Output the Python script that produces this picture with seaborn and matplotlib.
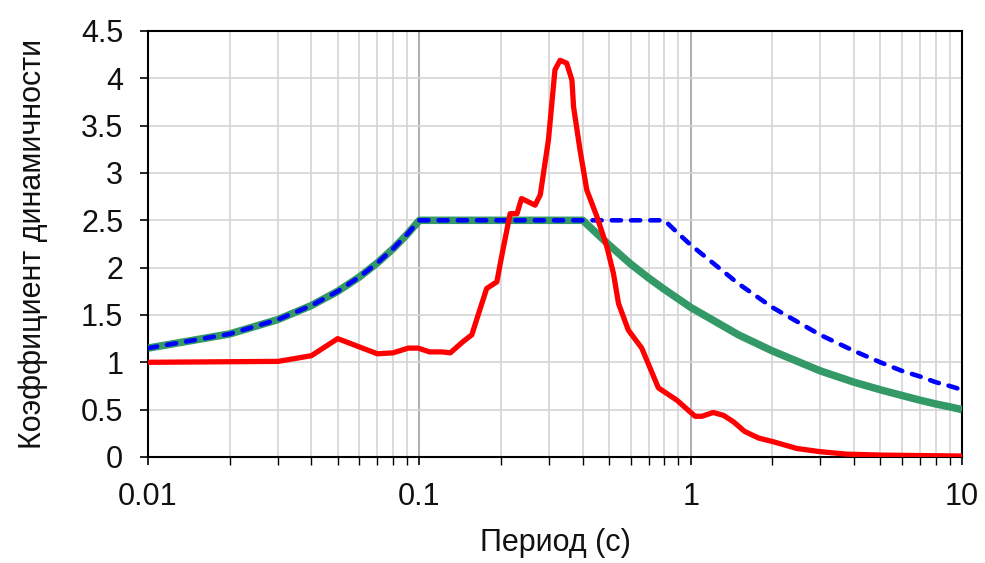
import matplotlib
matplotlib.use("Agg")
import matplotlib.pyplot as plt
import matplotlib.ticker as mticker
import seaborn as sns
import pandas as pd

# Observed spectrum (red)
red_period = [0.01, 0.0302, 0.040, 0.050, 0.070, 0.080, 0.091, 0.099, 0.109, 0.121, 0.130,
              0.145, 0.156, 0.177, 0.193, 0.201, 0.216, 0.229, 0.238, 0.267, 0.279, 0.299,
              0.316, 0.330, 0.349, 0.365, 0.370, 0.391, 0.414, 0.451, 0.491, 0.519, 0.542,
              0.589, 0.660, 0.760, 0.817, 0.889, 1.038, 1.10, 1.21, 1.32, 1.44, 1.58, 1.78,
              2.02, 2.46, 3.0, 3.76, 4.99, 10.0]
red_value = [1.00, 1.01, 1.07, 1.25, 1.09, 1.10, 1.15, 1.15, 1.11, 1.11, 1.10,
             1.22, 1.29, 1.78, 1.85, 2.12, 2.57, 2.57, 2.73, 2.66, 2.77, 3.35,
             4.09, 4.19, 4.16, 3.98, 3.70, 3.24, 2.82, 2.54, 2.22, 1.94, 1.62,
             1.34, 1.15, 0.73, 0.67, 0.60, 0.43, 0.43, 0.47, 0.44, 0.37, 0.27, 0.20,
             0.16, 0.09, 0.056, 0.03, 0.02, 0.01]

# Design spectra
design_period = [0.01, 0.02, 0.03, 0.04, 0.05, 0.06, 0.07, 0.08, 0.09, 0.1, 0.2, 0.3, 0.4,
                 0.5, 0.6, 0.7, 0.8, 0.9, 1.0, 1.5, 2.0, 3.0, 4.0, 5.0, 6.0, 7.0, 8.0, 9.0, 10.0]
blue_value = [1.15, 1.30, 1.45, 1.60, 1.75, 1.90, 2.05, 2.20, 2.35, 2.50, 2.50, 2.50, 2.50,
              2.50, 2.50, 2.50, 2.50, 2.36, 2.24, 1.83, 1.58, 1.29, 1.12, 1.00, 0.91, 0.85,
              0.79, 0.75, 0.71]
green_value = [1.15, 1.30, 1.45, 1.60, 1.75, 1.90, 2.05, 2.20, 2.35, 2.50, 2.50, 2.50, 2.50,
               2.24, 2.04, 1.89, 1.77, 1.67, 1.58, 1.29, 1.12, 0.91, 0.79, 0.71, 0.65, 0.60,
               0.56, 0.53, 0.50]

x_ticks = [0.01, 0.1, 1, 10]
x_tick_labels = ["0.01", "0.1", "1", "10"]
y_ticks = [0, 0.5, 1, 1.5, 2, 2.5, 3, 3.5, 4, 4.5]
y_tick_labels = ["0", "0.5", "1", "1.5", "2", "2.5", "3", "3.5", "4", "4.5"]

sns.set_theme(style="white")
plt.rcParams["font.family"] = ["Liberation Sans", "DejaVu Sans"]

fig = plt.figure(figsize=(9.85, 5.63), dpi=100)
ax = fig.add_axes([0.1503, 0.1883, 0.8264, 0.7567])

df_red = pd.DataFrame({"T": red_period, "v": red_value})
df_des = pd.DataFrame({"T": design_period, "blue": blue_value, "green": green_value})

sns.lineplot(data=df_des, x="T", y="green", ax=ax, color="#339966", linewidth=5.4,
             solid_capstyle="butt", zorder=3)
sns.lineplot(data=df_des, x="T", y="blue", ax=ax, color="#0000ff", linewidth=3.3,
             zorder=4)
ax.lines[-1].set_dashes((2.0, 2.2))
ax.lines[-1].set_dash_capstyle("round")
sns.lineplot(data=df_red, x="T", y="v", ax=ax, color="#ff0000", linewidth=3.8, zorder=5)

ax.set_xscale("log")
ax.set_xlim(0.01, 10)
ax.set_ylim(0, 4.5)
ax.set_xticks(x_ticks)
ax.set_xticklabels(x_tick_labels)
ax.xaxis.set_minor_locator(mticker.LogLocator(base=10, subs=[2, 3, 4, 5, 6, 7, 8, 9]))
ax.xaxis.set_minor_formatter(mticker.NullFormatter())
ax.set_yticks(y_ticks)
ax.set_yticklabels(y_tick_labels)

ax.grid(True, which="major", axis="x", color="#a0a0a0", linewidth=1.2, zorder=0)
ax.grid(True, which="minor", axis="x", color="#d4d4d4", linewidth=1.2, zorder=0)
ax.grid(True, which="major", axis="y", color="#d4d4d4", linewidth=1.2, zorder=0)
ax.set_axisbelow(True)

for s in ax.spines.values():
    s.set_visible(True)
    s.set_color("black")
    s.set_linewidth(1.5)

ax.tick_params(axis="both", which="major", direction="out", length=5.8, width=1.2,
               color="black", labelsize=22, labelcolor="#111111", pad=12,
               bottom=True, left=True)
ax.tick_params(axis="x", which="minor", direction="out", length=5.8, width=1.0,
               color="black", bottom=True)

ax.set_xlabel("Период (с)", fontsize=22, color="#111111", labelpad=12)
ax.set_ylabel("Коэффициент динамичности", fontsize=22, color="#111111", labelpad=24)

fig.savefig("out.png", dpi=100, facecolor="white")
